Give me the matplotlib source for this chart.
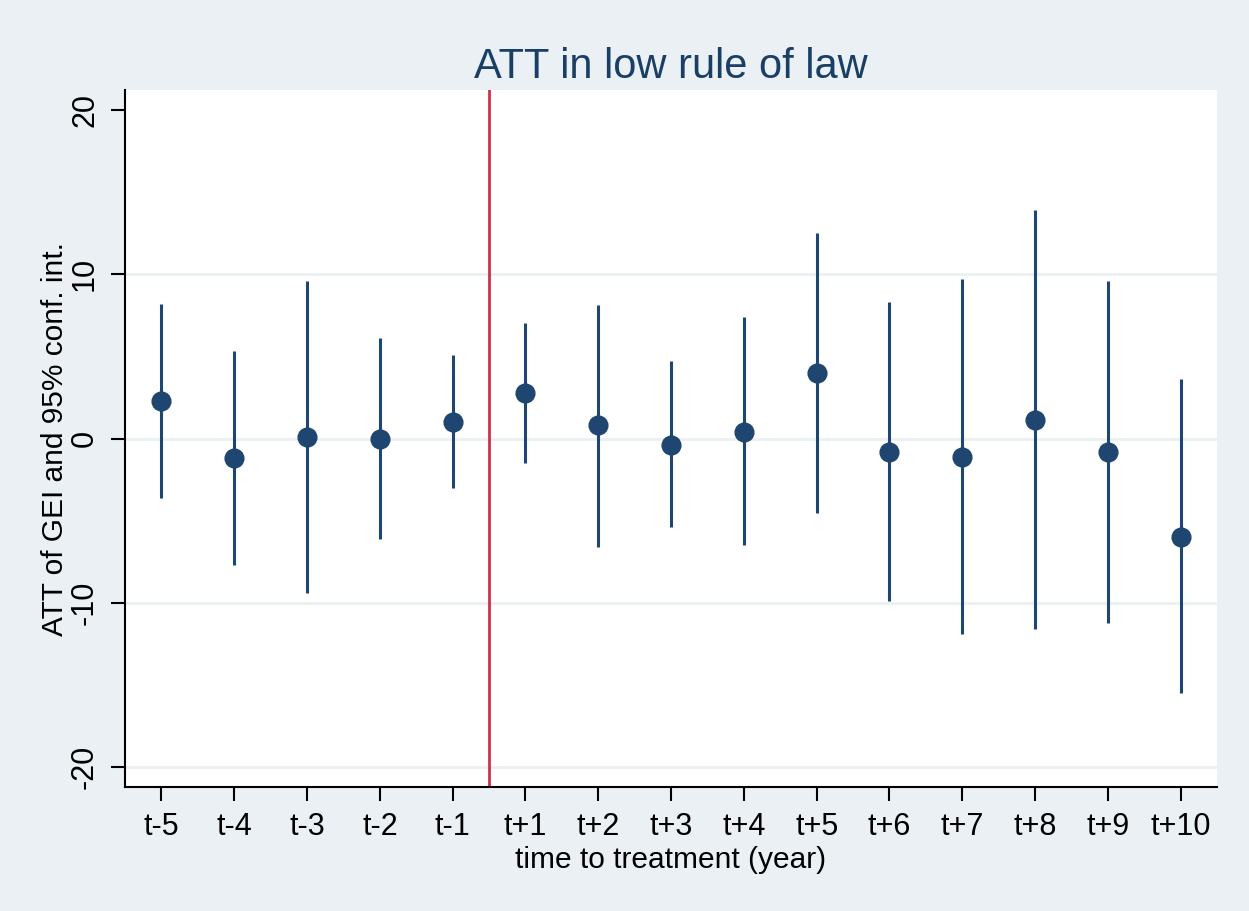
import numpy as np
import matplotlib.pyplot as plt

plt.rcParams['font.family'] = ['Liberation Sans', 'DejaVu Sans']

labels = ['t-5', 't-4', 't-3', 't-2', 't-1', 't+1', 't+2', 't+3', 't+4',
          't+5', 't+6', 't+7', 't+8', 't+9', 't+10']
att = [2.3, -1.2, 0.1, 0.0, 1.0, 2.8, 0.8, -0.4, 0.4, 4.0, -0.8, -1.1, 1.1, -0.8, -6.0]
ci_low = [-3.6, -7.7, -9.4, -6.1, -3.0, -1.5, -6.6, -5.4, -6.5, -4.5, -9.9, -11.9, -11.6, -11.2, -15.5]
ci_high = [8.2, 5.3, 9.6, 6.1, 5.1, 7.0, 8.1, 4.7, 7.4, 12.5, 8.3, 9.7, 13.9, 9.6, 3.6]
treat_at = 4.5

navy = '#1f4670'
bg = '#eaf0f3'

fig = plt.figure(figsize=(12.49, 9.11), dpi=100, facecolor=bg)
ax = fig.add_axes([0.1001, 0.1361, 0.8743, 0.765])
ax.set_facecolor('white')

x = np.arange(len(labels))
for yg in [-20, -10, 0, 10]:
    ax.axhline(yg, color='#eaf0f3', lw=2, zorder=0)

ax.vlines(x, ci_low, ci_high, color=navy, lw=2.2, zorder=2)
ax.plot(x, att, 'o', color=navy, ms=13.5, zorder=3)
ax.axvline(treat_at, color='#c8344a', lw=2, zorder=1)

ax.set_xlim(-0.5, 14.5)
ax.set_ylim(-21.2, 21.2)
ax.set_xticks(x)
ax.set_xticklabels(labels)
ax.set_yticks([-20, -10, 0, 10, 20])
ax.set_yticklabels(['-20', '-10', '0', '10', '20'], rotation=90, va='center')

for s in ['top', 'right']:
    ax.spines[s].set_visible(False)
for s in ['left', 'bottom']:
    ax.spines[s].set_linewidth(1.5)

ax.tick_params(axis='both', labelsize=22, width=1.5, length=10, direction='out')
ax.tick_params(axis='y', pad=8)
ax.tick_params(axis='x', pad=8)

ax.set_xlabel('time to treatment (year)', fontsize=21.5, labelpad=3)
ax.set_ylabel('ATT of GEI and 95% conf. int.', fontsize=21.5, labelpad=1)
ax.set_title('ATT in low rule of law', fontsize=30, color='#1a3f66', pad=9)

fig.savefig('out.png', dpi=100, facecolor=bg)
